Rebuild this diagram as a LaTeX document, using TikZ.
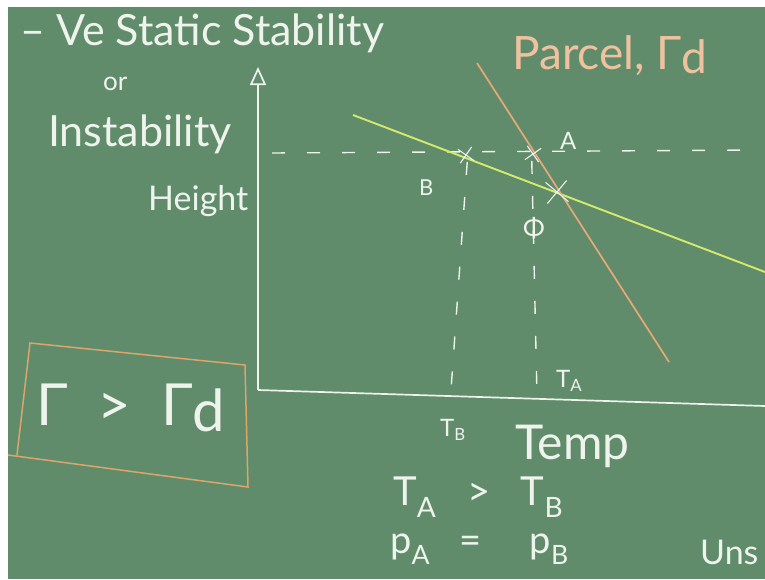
\documentclass[tikz,border=0pt]{standalone}
\usepackage{fontspec}
\setmainfont{Lato}
\usetikzlibrary{arrows.meta,shapes.misc}
\definecolor{board}{HTML}{608C6C}
\definecolor{chalk}{HTML}{EEF3EC}
\definecolor{envline}{HTML}{D4EA6C}
\definecolor{parcelorange}{HTML}{E8A878}
\definecolor{boxorange}{HTML}{DCA66A}
\definecolor{parceltext}{HTML}{EEC29E}

\begin{document}
\begin{tikzpicture}[
  x=1pt, y=-1pt,
  chalktext/.style={text=chalk, inner sep=0pt, anchor=west},
  axis/.style={draw=chalk, line width=1.7pt},
  guide/.style={draw=chalk, line width=1.4pt, dash pattern=on 13pt off 22pt},
  envl/.style={draw=envline, line width=1.9pt},
  parl/.style={draw=parcelorange, line width=1.7pt},
  xmark/.style={cross out, draw=chalk, line width=1.1pt, inner sep=0pt},
]

% --- Board ---
\fill[white] (0,0) rectangle (765,579);
\fill[board] (8,7) rectangle (765,579);
\useasboundingbox (0,0) rectangle (765,579);

% --- Heading on the left ---
\node[chalktext, font=\fontsize{43}{43}\selectfont] (title) at (20,33) {-- Ve Static Stability};
\node[chalktext, font=\fontsize{26}{26}\selectfont] (ortext) at (103,84) {or};
\node[chalktext, font=\fontsize{43}{43}\selectfont] (instab) at (48,134) {Instability};
\node[chalktext, font=\fontsize{34}{34}\selectfont] (height) at (148,201) {Height};

% --- Axes ---
\coordinate (origin) at (258,390);
\coordinate (ytop) at (258,67);
\coordinate (xend) at (765,406);
\draw[axis, -{Triangle[open, length=18pt, width=16pt]}] (origin) -- (ytop);
\draw[axis] (origin) -- (xend);

% --- Level line through A and B ---
\coordinate (lvlW) at (272,153);
\coordinate (lvlE) at (760,150);
\draw[guide] (lvlW) -- (lvlE);

% --- Environment and parcel profiles ---
\coordinate (envN) at (353,115);
\coordinate (envS) at (765,272);
\draw[envl] (envN) -- (envS);
\coordinate (parN) at (477,63);
\coordinate (parS) at (669,362);
\draw[parl] (parN) -- (parS);

% --- Marks ---
\node[xmark, minimum size=13pt, rotate=10] (markB) at (466,155) {};
\node[xmark, minimum size=13pt, rotate=-10] (markA) at (533,154) {};
\node[xmark, minimum size=20pt, rotate=5] (cross) at (557,192) {};

% --- Drop lines to the temperature axis ---
\coordinate (footB) at (451,390);
\coordinate (footA) at (537,396);
\draw[guide] (markB.south) -- (footB);
\draw[guide] (markA.south) -- (footA);

% --- Point labels ---
\node[chalktext, font=\fontsize{24}{24}\selectfont] (labA) at (560,141) {A};
\node[chalktext, font=\fontsize{22}{22}\selectfont] (labB) at (419,188) {B};
\node[chalktext, font=\fontsize{26}{26}\selectfont] (labPhi) at (523,228) {Φ};
\node[chalktext, font=\fontsize{24}{24}\selectfont] (labTA) at (556,381) {T\textsubscript{A}};
\node[chalktext, font=\fontsize{24}{24}\selectfont] (labTB) at (440,430) {T\textsubscript{B}};
\node[chalktext, font=\fontsize{48}{48}\selectfont] (temp) at (515,446) {Temp};

% --- Relations below the axis ---
\node[chalktext, font=\fontsize{40}{40}\selectfont] (relT) at (393,497) {T\textsubscript{A} \ \ > \ \ T\textsubscript{B}};
\node[chalktext, font=\fontsize{38}{38}\selectfont] (relP) at (390,549) {p\textsubscript{A} \ \ = \ \ \ \ p\textsubscript{B}};
\node[chalktext, font=\fontsize{34}{34}\selectfont] (uns) at (700,552) {Uns};

% --- Parcel label ---
\node[text=parceltext, inner sep=0pt, anchor=west, font=\fontsize{46}{46}\selectfont] (parcel) at (512,56) {Parcel, Γ\raisebox{-4pt}{d}};

% --- Boxed criterion ---
\coordinate (boxNW) at (30,343);
\coordinate (boxNE) at (245,365);
\coordinate (boxSE) at (248,487);
\coordinate (boxSW) at (17,455);
\coordinate (boxW) at (8,455);
\draw[boxorange, line width=1.5pt] (boxSW) -- (boxNW) -- (boxNE) -- (boxSE) -- (boxW);
\node[chalktext, font=\fontsize{58}{58}\selectfont] (crit) at (36,408) {Γ \ > \ Γ\raisebox{-6pt}{d}};

\end{tikzpicture}
\end{document}
